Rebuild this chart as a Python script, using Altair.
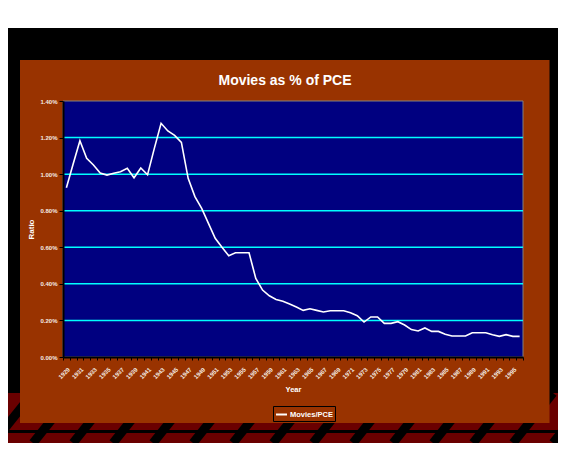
import altair as alt
import pandas as pd

# ---- data ----
years = list(range(1929, 1997))
ratio_pct = [0.926, 1.055, 1.183, 1.087, 1.050, 1.006, 0.995, 1.005, 1.013, 1.032,
             0.980, 1.034, 0.997, 1.141, 1.278, 1.236, 1.212, 1.174, 0.977, 0.877,
             0.813, 0.731, 0.649, 0.600, 0.554, 0.570, 0.570, 0.570, 0.430, 0.366,
             0.335, 0.315, 0.305, 0.290, 0.273, 0.255, 0.264, 0.255, 0.246, 0.253,
             0.253, 0.253, 0.242, 0.226, 0.191, 0.219, 0.219, 0.184, 0.184, 0.193,
             0.175, 0.150, 0.142, 0.159, 0.140, 0.140, 0.124, 0.115, 0.115, 0.115,
             0.133, 0.133, 0.133, 0.122, 0.113, 0.122, 0.113, 0.113]
series_name = "Movies/PCE"
title_text = "Movies as % of PCE"
y_ticks = [0.0, 0.002, 0.004, 0.006, 0.008, 0.010, 0.012, 0.014]
grid_values = [0.002, 0.004, 0.006, 0.008, 0.010, 0.012]

df = pd.DataFrame({
    "Year": [str(y) for y in years],
    "Ratio": [v / 100 for v in ratio_pct],
    "series": series_name,
})

W, H = 460, 256
FONT = "Liberation Sans"
BROWN = "#993300"
LABEL = "#f4ece4"
one = alt.Data(values=[{}])

y_scale = alt.Scale(domain=[0, 0.014])
y_axis = alt.Axis(title="Ratio", values=y_ticks, format=".2%", grid=False,
                  labelFontSize=6, labelFont=FONT, labelFontWeight="bold",
                  labelColor=LABEL, labelPadding=2,
                  tickColor="black", tickSize=4, tickWidth=1,
                  domainColor="black", domainWidth=2,
                  titleFont=FONT, titleFontSize=8, titleFontWeight="bold",
                  titleColor="white", titlePadding=4, zindex=1)

# ---- slide decoration (outside the plot area) ----
white_top = alt.Chart(one).mark_rect(color="white").encode(
    x=alt.value(-55), x2=alt.value(495), y=alt.value(-93), y2=alt.value(-73))
red_bottom = alt.Chart(one).mark_rect(color="#6a0000").encode(
    x=alt.value(-55), x2=alt.value(495), y=alt.value(292), y2=alt.value(342))
stripes = alt.Chart(alt.sequence(0, 16, as_="k")).transform_calculate(
    xb="datum.k * 40 - 70", xt="datum.k * 40 - 30"
).mark_rule(color="black", strokeWidth=9).encode(
    x=alt.X("xb:Q", scale=None, axis=None),
    x2="xt:Q",
    y=alt.value(342), y2=alt.value(292))
frame_line = alt.Chart(one).mark_rule(color="black", strokeWidth=3).encode(
    x=alt.value(-55), x2=alt.value(495), y=alt.value(330.5))
brown = alt.Chart(one).mark_rect(color=BROWN).encode(
    x=alt.value(-43), x2=alt.value(486.5), y=alt.value(-41), y2=alt.value(322))
navy = alt.Chart(one).mark_rect(color="#000080", stroke="#808080", strokeWidth=1).encode(
    x=alt.value(0), x2=alt.value(W), y=alt.value(0), y2=alt.value(H))
title = alt.Chart(one).mark_text(
    text=title_text, font=FONT, fontSize=14, fontWeight="bold", color="white",
    align="center", baseline="alphabetic").encode(
    x=alt.value(222), y=alt.value(-16))

grid = alt.Chart(pd.DataFrame({"Ratio": grid_values})).mark_rule(
    color="#00ffff", strokeWidth=1.5).encode(
    y=alt.Y("Ratio:Q", scale=y_scale, axis=y_axis))

line = alt.Chart(df).mark_line(strokeWidth=1.6).encode(
    x=alt.X("Year:N", sort=None,
            scale=alt.Scale(type="band", paddingInner=0, paddingOuter=0),
            axis=alt.Axis(title="Year", labelAngle=315,
                          labelExpr="toNumber(datum.value) % 2 == 1 ? datum.label : ''",
                          labelFontSize=6, labelFont=FONT, labelFontWeight="bold",
                          labelColor=LABEL, labelPadding=6,
                          tickColor="black", tickSize=3, tickWidth=1, tickBand="extent",
                          domainColor="black", domainWidth=2,
                          titleFont=FONT, titleFontSize=7.5, titleFontWeight="bold",
                          titleColor="white", titlePadding=6, zindex=1)),
    y=alt.Y("Ratio:Q", scale=y_scale, axis=y_axis),
    color=alt.Color("series:N", scale=alt.Scale(range=["white"]),
                    legend=alt.Legend(title=None, orient="none", legendX=210, legendY=305,
                                      symbolType="stroke", symbolSize=120,
                                      symbolStrokeWidth=2, labelFont=FONT,
                                      labelFontSize=7.5, labelFontWeight="bold",
                                      labelColor="white", padding=2, labelOffset=2,
                                      fillColor=BROWN, strokeColor="black")),
)

chart = alt.layer(
    white_top, red_bottom, stripes, frame_line, brown, navy, title, grid, line
).properties(
    width=W, height=H,
    autosize=alt.AutoSizeParams(type="none"),
    padding={"left": 55, "top": 93, "right": 35, "bottom": 86},
).configure(background="black").configure_view(stroke=None)

chart.save("out.html", embed_options={"renderer": "svg", "actions": False})
